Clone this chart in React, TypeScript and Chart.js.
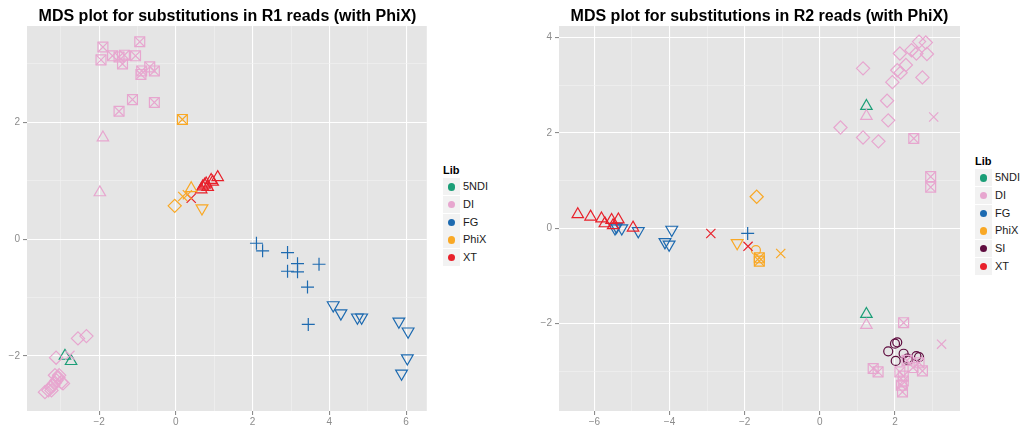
import React, { useEffect, useRef } from 'react';
import { Chart, registerables } from 'chart.js';
Chart.register(...registerables);

type Pt = [number, number];

// ---------- Panel 1: R1 reads ----------
const R1_TITLE = 'MDS plot for substitutions in R1 reads (with PhiX)';
const R1_LIBS = ['5NDI', 'DI', 'FG', 'PhiX', 'XT'];
const R1_X_RANGE: Pt = [-3.878, 6.538];
const R1_Y_RANGE: Pt = [-2.943, 3.65];

const R1_DI_BOXX: Pt[] = [
  [-1.90, 3.29], [-0.94, 3.38], [-1.65, 3.14], [-1.34, 3.15], [-1.05, 3.14],
  [-1.95, 3.07], [-1.48, 3.12], [-1.39, 3.0], [-0.89, 2.88], [-0.68, 2.95],
  [-0.56, 2.88], [-0.91, 2.82], [-1.13, 2.39], [-0.56, 2.34], [-1.48, 2.19],
];
const R1_DI_TRI: Pt[] = [[-1.9, 1.74], [-1.98, 0.8]];
const R1_DI_DIAMOND: Pt[] = [
  [-2.55, -1.7], [-2.33, -1.66], [-3.12, -2.03],
  [-3.41, -2.62], [-3.32, -2.59], [-3.26, -2.53], [-3.19, -2.5], [-3.15, -2.46],
  [-3.11, -2.42], [-3.06, -2.37], [-3.15, -2.33], [-2.98, -2.45], [-2.94, -2.47],
  [-3.24, -2.59], [-3.04, -2.33],
];
const R1_DI_X: Pt[] = [[-2.76, -1.99]];
const R1_5NDI_TRI: Pt[] = [[-2.89, -2.0], [-2.73, -2.09]];
const R1_PHIX_BOXX: Pt[] = [[0.17, 2.05]];
const R1_PHIX_DIAMOND: Pt[] = [[-0.03, 0.57]];
const R1_PHIX_TRIDOWN: Pt[] = [[0.68, 0.53]];
const R1_PHIX_TRI: Pt[] = [[0.4, 0.87]];
const R1_PHIX_X: Pt[] = [[0.18, 0.73], [0.3, 0.76]];
const R1_XT_TRI: Pt[] = [
  [1.09, 1.06], [0.92, 1.01], [0.79, 0.95], [0.7, 0.9], [0.83, 0.89],
  [0.66, 0.85], [0.75, 0.93], [0.96, 0.98],
];
const R1_XT_X: Pt[] = [[0.4, 0.7]];
const R1_FG_PLUS: Pt[] = [
  [2.1, -0.07], [2.26, -0.2], [2.91, -0.23], [3.17, -0.42], [3.73, -0.43],
  [2.91, -0.55], [3.17, -0.56], [3.43, -0.82], [3.45, -1.46],
];
const R1_FG_TRIDOWN: Pt[] = [
  [4.1, -1.13], [4.3, -1.27], [4.73, -1.34], [4.84, -1.34], [5.81, -1.41],
  [6.05, -1.58], [6.03, -2.04], [5.88, -2.3],
];

// ---------- Panel 2: R2 reads ----------
const R2_TITLE = 'MDS plot for substitutions in R2 reads (with PhiX)';
const R2_LIBS = ['5NDI', 'DI', 'FG', 'PhiX', 'SI', 'XT'];
const R2_X_RANGE: Pt = [-6.94, 3.73];
const R2_Y_RANGE: Pt = [-3.83, 4.237];

const R2_DI_DIAMOND: Pt[] = [
  [2.64, 3.91], [2.82, 3.89], [2.44, 3.73], [2.57, 3.66], [2.85, 3.65],
  [2.13, 3.66], [2.29, 3.42], [2.06, 3.31], [2.15, 3.26], [1.15, 3.35],
  [2.73, 3.16], [1.93, 3.06], [1.79, 2.67], [1.82, 2.26], [0.55, 2.11],
  [1.15, 1.9], [1.56, 1.82],
];
const R2_DI_TRI: Pt[] = [[1.24, 2.35], [1.24, -2.03]];
const R2_5NDI_TRI: Pt[] = [[1.24, 2.56], [1.24, -1.8]];
const R2_DI_X: Pt[] = [[3.03, 2.33], [3.24, -2.43]];
const R2_DI_BOXX: Pt[] = [
  [2.5, 1.88], [2.95, 1.08], [2.95, 0.86], [2.23, -1.98],
  [1.42, -2.94], [1.55, -3.01], [2.13, -3.01], [2.22, -3.1], [2.17, -3.29],
  [2.2, -3.43], [2.32, -2.77], [2.48, -2.92], [2.73, -2.99], [2.64, -2.82],
  [2.22, -3.2],
];
const R2_SI_CIRCLE: Pt[] = [
  [2.06, -2.39], [2.0, -2.42], [1.82, -2.58], [2.23, -2.63], [2.02, -2.78],
  [2.33, -2.73], [2.57, -2.68], [2.64, -2.7], [2.35, -2.77],
];
const R2_XT_TRI: Pt[] = [
  [-6.44, 0.29], [-6.1, 0.24], [-5.81, 0.2], [-5.54, 0.17], [-5.36, 0.18],
  [-5.72, 0.1], [-5.5, 0.06], [-4.97, 0.01],
];
const R2_XT_X: Pt[] = [[-2.9, -0.11], [-1.91, -0.38]];
const R2_FG_TRIDOWN: Pt[] = [
  [-5.45, 0.0], [-5.27, 0.0], [-4.83, -0.06], [-3.94, -0.03], [-4.12, -0.29],
  [-4.01, -0.34], [-5.41, 0.03],
];
const R2_FG_PLUS: Pt[] = [[-1.92, -0.11]];
const R2_PHIX_DIAMOND: Pt[] = [[-1.68, 0.66]];
const R2_PHIX_TRIDOWN: Pt[] = [[-2.2, -0.31]];
const R2_PHIX_CIRCLE: Pt[] = [[-1.7, -0.46]];
const R2_PHIX_BOXX: Pt[] = [[-1.61, -0.69], [-1.61, -0.62]];
const R2_PHIX_X: Pt[] = [[-1.04, -0.53]];

// ---------- styling ----------
const COLORS: Record<string, string> = {
  '5NDI': '#1B9E77',
  DI: '#E7A6CF',
  FG: '#1D6AB0',
  PhiX: '#F9A825',
  SI: '#5E0B3E',
  XT: '#E8202A',
};
const FONT = "'Liberation Sans', Arial, Helvetica, sans-serif";

type Shape = 'tri' | 'triDown' | 'diamond' | 'boxX' | 'plus' | 'x' | 'circle';
type Series = { lib: string; shape: Shape; pts: Pt[] };

const R1_SERIES: Series[] = [
  { lib: 'DI', shape: 'boxX', pts: R1_DI_BOXX },
  { lib: 'DI', shape: 'tri', pts: R1_DI_TRI },
  { lib: 'DI', shape: 'diamond', pts: R1_DI_DIAMOND },
  { lib: 'DI', shape: 'x', pts: R1_DI_X },
  { lib: '5NDI', shape: 'tri', pts: R1_5NDI_TRI },
  { lib: 'PhiX', shape: 'boxX', pts: R1_PHIX_BOXX },
  { lib: 'PhiX', shape: 'diamond', pts: R1_PHIX_DIAMOND },
  { lib: 'PhiX', shape: 'triDown', pts: R1_PHIX_TRIDOWN },
  { lib: 'PhiX', shape: 'tri', pts: R1_PHIX_TRI },
  { lib: 'PhiX', shape: 'x', pts: R1_PHIX_X },
  { lib: 'XT', shape: 'tri', pts: R1_XT_TRI },
  { lib: 'XT', shape: 'x', pts: R1_XT_X },
  { lib: 'FG', shape: 'plus', pts: R1_FG_PLUS },
  { lib: 'FG', shape: 'triDown', pts: R1_FG_TRIDOWN },
];
const R2_SERIES: Series[] = [
  { lib: 'DI', shape: 'diamond', pts: R2_DI_DIAMOND },
  { lib: 'DI', shape: 'tri', pts: R2_DI_TRI },
  { lib: '5NDI', shape: 'tri', pts: R2_5NDI_TRI },
  { lib: 'DI', shape: 'x', pts: R2_DI_X },
  { lib: 'DI', shape: 'boxX', pts: R2_DI_BOXX },
  { lib: 'SI', shape: 'circle', pts: R2_SI_CIRCLE },
  { lib: 'XT', shape: 'tri', pts: R2_XT_TRI },
  { lib: 'XT', shape: 'x', pts: R2_XT_X },
  { lib: 'FG', shape: 'triDown', pts: R2_FG_TRIDOWN },
  { lib: 'FG', shape: 'plus', pts: R2_FG_PLUS },
  { lib: 'PhiX', shape: 'diamond', pts: R2_PHIX_DIAMOND },
  { lib: 'PhiX', shape: 'triDown', pts: R2_PHIX_TRIDOWN },
  { lib: 'PhiX', shape: 'circle', pts: R2_PHIX_CIRCLE },
  { lib: 'PhiX', shape: 'boxX', pts: R2_PHIX_BOXX },
  { lib: 'PhiX', shape: 'x', pts: R2_PHIX_X },
];

const SHAPE_STYLES: Record<string, { style: string; r: number; rot: number }[]> = {
  tri: [{ style: 'triangle', r: 6.6, rot: 0 }],
  triDown: [{ style: 'triangle', r: 6.8, rot: 180 }],
  diamond: [{ style: 'rectRot', r: 6.6, rot: 0 }],
  boxX: [
    { style: 'rect', r: 7, rot: 0 },
    { style: 'crossRot', r: 7, rot: 0 },
  ],
  plus: [{ style: 'cross', r: 6.5, rot: 0 }],
  x: [{ style: 'crossRot', r: 6.5, rot: 0 }],
  circle: [{ style: 'circle', r: 4.5, rot: 0 }],
};

function buildDatasets(series: Series[]) {
  const out: any[] = [];
  series.forEach((s) => {
    SHAPE_STYLES[s.shape].forEach((st) => {
      out.push({
        label: s.lib,
        data: s.pts.map(([x, y]) => ({ x, y })),
        pointStyle: st.style,
        pointRadius: st.r,
        rotation: st.rot,
        borderColor: COLORS[s.lib],
        backgroundColor: 'rgba(0,0,0,0)',
        pointBorderWidth: 1.2,
        pointHoverRadius: st.r,
        showLine: false,
      });
    });
  });
  return out;
}

const isMajor = (v: number) => Math.abs(Math.round(v)) % 2 === 0;
const fmt = (v: number) => (v < 0 ? '\u2212' + Math.abs(v) : String(v));

function axis(range: Pt, which: 'x' | 'y', size: number) {
  return {
    type: 'linear',
    min: range[0],
    max: range[1],
    border: { display: false },
    grid: {
      color: (c: any) => (isMajor(c.tick.value) ? '#FFFFFF' : '#F2F2F2'),
      lineWidth: (c: any) => (isMajor(c.tick.value) ? 1.1 : 0.6),
      tickColor: (c: any) => (isMajor(c.tick.value) ? '#8C8C8C' : 'rgba(0,0,0,0)'),
      tickLength: 4,
      drawTicks: true,
    },
    ticks: {
      stepSize: 1,
      includeBounds: false,
      autoSkip: false,
      maxRotation: 0,
      color: '#8C8C8C',
      padding: which === 'x' ? 1 : 3,
      font: { size: 10, family: FONT },
      callback: (v: any) => (isMajor(Number(v)) ? fmt(Number(v)) : ''),
    },
    afterFit: (s: any) => {
      if (which === 'x') s.height = size;
      else s.width = size;
    },
  };
}

const bgPlugin = {
  id: 'panelBg',
  beforeDraw(chart: any) {
    const { ctx, chartArea: a } = chart;
    ctx.save();
    ctx.fillStyle = '#E5E5E5';
    ctx.fillRect(a.left, a.top, a.right - a.left, a.bottom - a.top);
    ctx.restore();
  },
};

function makeChart(
  canvas: HTMLCanvasElement,
  series: Series[],
  xr: Pt,
  yr: Pt,
  yAxisW: number,
  padRight: number,
) {
  return new Chart(canvas, {
    type: 'scatter',
    data: { datasets: buildDatasets(series) },
    options: {
      responsive: false,
      animation: false,
      events: [],
      layout: { padding: { top: 26, right: padRight, left: 0, bottom: 0 } },
      plugins: { legend: { display: false }, tooltip: { enabled: false }, title: { display: false } },
      scales: {
        x: axis(xr, 'x', 27) as any,
        y: axis(yr, 'y', yAxisW) as any,
      },
      elements: { point: { hitRadius: 0 } },
    } as any,
    plugins: [bgPlugin],
  });
}

function Legend({ libs, left, titleTop }: { libs: string[]; left: number; titleTop: number }) {
  return (
    <div style={{ position: 'absolute', left, top: titleTop, fontFamily: FONT }}>
      <div style={{ fontWeight: 'bold', fontSize: 11, lineHeight: '13px', height: 13, marginBottom: 1.5, color: '#000' }}>
        Lib
      </div>
      {libs.map((lib) => (
        <div key={lib} style={{ display: 'flex', alignItems: 'center', height: 17.7 }}>
          <div
            style={{
              width: 17,
              height: 17,
              background: '#F2F2F2',
              position: 'relative',
              boxSizing: 'border-box',
            }}
          >
            <div
              style={{
                position: 'absolute',
                left: 4.8,
                top: 4.8,
                width: 7.4,
                height: 7.4,
                borderRadius: '50%',
                background: COLORS[lib],
              }}
            />
          </div>
          <span style={{ marginLeft: 3, fontSize: 11, color: '#1A1A1A', lineHeight: '17px' }}>{lib}</span>
        </div>
      ))}
    </div>
  );
}

export default function App() {
  const c1 = useRef<HTMLCanvasElement>(null);
  const c2 = useRef<HTMLCanvasElement>(null);

  useEffect(() => {
    const ch1 = makeChart(c1.current!, R1_SERIES, R1_X_RANGE, R1_Y_RANGE, 27, 7);
    const ch2 = makeChart(c2.current!, R2_SERIES, R2_X_RANGE, R2_Y_RANGE, 19, 10);
    return () => {
      ch1.destroy();
      ch2.destroy();
    };
  }, []);

  const titleStyle: React.CSSProperties = {
    position: 'absolute',
    top: 6,
    height: 20,
    lineHeight: '20px',
    textAlign: 'center',
    fontFamily: FONT,
    fontWeight: 'bold',
    fontSize: 16,
    color: '#000',
    whiteSpace: 'nowrap',
  };

  return (
    <div style={{ position: 'absolute', left: 0, top: 0, width: 1025, height: 438, background: '#FFFFFF', overflow: 'hidden' }}>
      <canvas ref={c1} width={435} height={438} style={{ position: 'absolute', left: 0, top: 0 }} />
      <canvas ref={c2} width={430} height={438} style={{ position: 'absolute', left: 540, top: 0 }} />
      <div style={{ ...titleStyle, left: 27, width: 401 }}>{R1_TITLE}</div>
      <div style={{ ...titleStyle, left: 559, width: 401 }}>{R2_TITLE}</div>
      <Legend libs={R1_LIBS} left={443} titleTop={163.5} />
      <Legend libs={R2_LIBS} left={975} titleTop={154.5} />
    </div>
  );
}
